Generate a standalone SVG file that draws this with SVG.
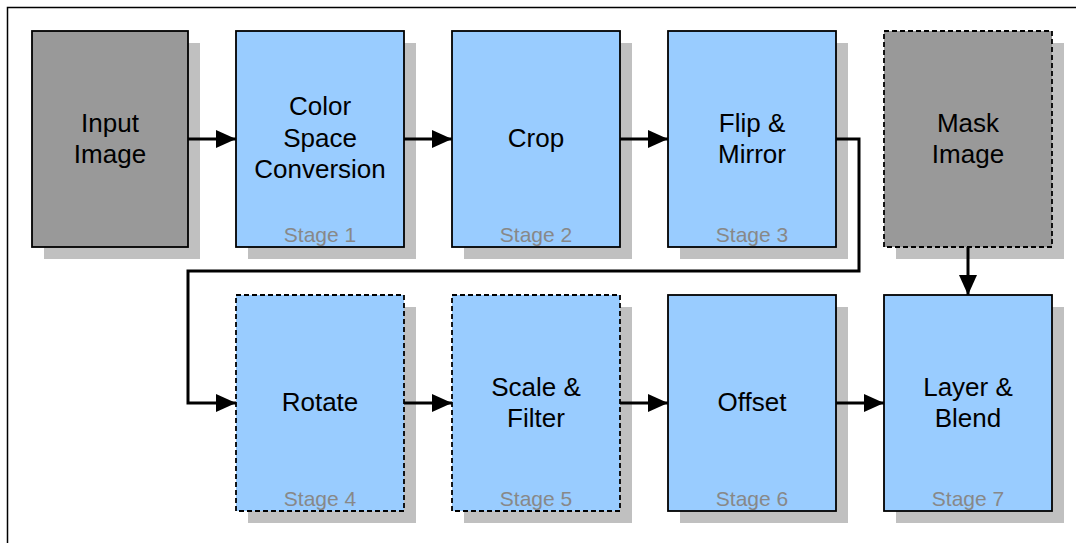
<svg xmlns="http://www.w3.org/2000/svg" width="1076" height="543" viewBox="0 0 1076 543">
  <style>
    .shadow { fill: #c0c0c0; }
    .box { stroke: #000; stroke-width: 1.8; }
    .blue { fill: #99ccff; }
    .grey { fill: #999999; }
    .dash { stroke-dasharray: 5 3; }
    .lbl { font-family: "Liberation Sans", Arial, sans-serif; font-size: 26px; fill: #000; text-anchor: middle; }
    .stage { font-family: "Liberation Sans", Arial, sans-serif; font-size: 21px; fill: #888888; text-anchor: middle; }
    .conn { fill: none; stroke: #000; stroke-width: 3; marker-end: url(#arrow); }
  </style>
  <defs>
    <marker id="arrow" markerWidth="20" markerHeight="18" refX="20" refY="9" orient="auto" markerUnits="userSpaceOnUse">
      <path d="M0,0 L20,9 L0,18 Z" fill="#000"/>
    </marker>
  </defs>
  <rect x="0" y="0" width="1076" height="543" fill="#fff"/>
  <rect x="7.5" y="7.5" width="1100" height="600" fill="none" stroke="#000" stroke-width="1.5"/>

  <g id="input-image">
    <rect class="shadow" x="44" y="43" width="156" height="216"/>
    <rect class="box grey" x="32" y="31" width="156" height="216"/>
    <text class="lbl" x="110" y="132">Input</text>
    <text class="lbl" x="110" y="163">Image</text>
  </g>
  <g id="stage1">
    <rect class="shadow" x="248" y="43" width="168" height="216"/>
    <rect class="box blue" x="236" y="31" width="168" height="216"/>
    <text class="lbl" x="320" y="115">Color</text>
    <text class="lbl" x="320" y="147">Space</text>
    <text class="lbl" x="320" y="178">Conversion</text>
    <text class="stage" x="320" y="242">Stage 1</text>
  </g>
  <g id="stage2">
    <rect class="shadow" x="464" y="43" width="168" height="216"/>
    <rect class="box blue" x="452" y="31" width="168" height="216"/>
    <text class="lbl" x="536" y="147">Crop</text>
    <text class="stage" x="536" y="242">Stage 2</text>
  </g>
  <g id="stage3">
    <rect class="shadow" x="680" y="43" width="168" height="216"/>
    <rect class="box blue" x="668" y="31" width="168" height="216"/>
    <text class="lbl" x="752" y="132">Flip &amp;</text>
    <text class="lbl" x="752" y="163">Mirror</text>
    <text class="stage" x="752" y="242">Stage 3</text>
  </g>
  <g id="mask-image">
    <rect class="shadow" x="896" y="43" width="168" height="216"/>
    <rect class="box grey dash" x="884" y="31" width="168" height="216"/>
    <text class="lbl" x="968" y="132">Mask</text>
    <text class="lbl" x="968" y="163">Image</text>
  </g>
  <g id="stage4">
    <rect class="shadow" x="248" y="307" width="168" height="216"/>
    <rect class="box blue dash" x="236" y="295" width="168" height="216"/>
    <text class="lbl" x="320" y="411">Rotate</text>
    <text class="stage" x="320" y="506">Stage 4</text>
  </g>
  <g id="stage5">
    <rect class="shadow" x="464" y="307" width="168" height="216"/>
    <rect class="box blue dash" x="452" y="295" width="168" height="216"/>
    <text class="lbl" x="536" y="396">Scale &amp;</text>
    <text class="lbl" x="536" y="427">Filter</text>
    <text class="stage" x="536" y="506">Stage 5</text>
  </g>
  <g id="stage6">
    <rect class="shadow" x="680" y="307" width="168" height="216"/>
    <rect class="box blue" x="668" y="295" width="168" height="216"/>
    <text class="lbl" x="752" y="411">Offset</text>
    <text class="stage" x="752" y="506">Stage 6</text>
  </g>
  <g id="stage7">
    <rect class="shadow" x="896" y="307" width="168" height="216"/>
    <rect class="box blue" x="884" y="295" width="168" height="216"/>
    <text class="lbl" x="968" y="396">Layer &amp;</text>
    <text class="lbl" x="968" y="427">Blend</text>
    <text class="stage" x="968" y="506">Stage 7</text>
  </g>

  <g id="connectors">
    <path class="conn" d="M188,139 L236,139"/>
    <path class="conn" d="M404,139 L452,139"/>
    <path class="conn" d="M620,139 L668,139"/>
    <path class="conn" d="M836,139 L859,139 L859,271 L188,271 L188,403 L236,403"/>
    <path class="conn" d="M404,403 L452,403"/>
    <path class="conn" d="M620,403 L668,403"/>
    <path class="conn" d="M836,403 L884,403"/>
    <path class="conn" d="M968,247 L968,295"/>
  </g>
</svg>
